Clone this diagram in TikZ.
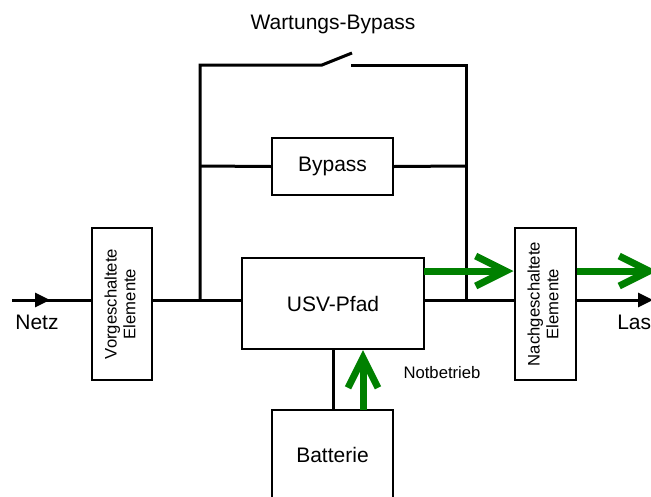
\documentclass[tikz,border=0pt]{standalone}
\usepackage{fontspec}
\setmainfont{Liberation Sans}
\usetikzlibrary{arrows.meta}
\definecolor{flowgreen}{RGB}{0,128,0}
\tikzset{
  box/.style={draw=black, line width=1.5pt, inner sep=0pt, align=center, font=\fontsize{15.75}{18}\selectfont},
  vbox/.style={box, minimum width=45pt, minimum height=114pt, font=\fontsize{12.5}{15}\selectfont},
  wire/.style={draw=black, line width=2.25pt},
  tri/.style={-{Triangle[length=11.25pt 0, width=10.5pt 0]}},
  garrow/.style={draw=flowgreen, line width=5.25pt, -{Straight Barb[length=22.5pt 0, width=22.5pt 0]}},
  big/.style={font=\fontsize{15.75}{18}\selectfont, inner sep=0pt},
  small/.style={font=\fontsize{12.5}{15}\selectfont, inner sep=0pt}
}
\begin{document}
\begin{tikzpicture}[x=0.75pt, y=-0.75pt]
\useasboundingbox (0,0) rectangle (651,497);
\clip (0,0) rectangle (651,497);
% boxes
\node[vbox] (vor) at (122,304) {\rotatebox{90}{\begin{tabular}{@{}c@{}}Vorgeschaltete\\[-1pt]Elemente\end{tabular}}};
\node[vbox, minimum width=45.75pt] (nach) at (545,304) {\rotatebox{90}{\begin{tabular}{@{}c@{}}Nachgeschaltete\\[-1pt]Elemente\end{tabular}}};
\node[box, minimum width=136.5pt, minimum height=68.25pt] (usv) at (333,303.5) {USV-Pfad};
\node[box, minimum width=90.75pt, minimum height=42.75pt] (byp) at (332.5,166.5) {Bypass};
\node[box, minimum width=90.75pt, minimum height=66.75pt] (bat) at (332.5,454.5) {Batterie};
% coordinates
\coordinate (ns) at (12,300);
\coordinate (na) at (50,300);
\coordinate (le) at (653,300);
\coordinate (jl) at (200,300);
\coordinate (jr) at (466,300);
\coordinate (tl) at (200,65);
\coordinate (tr) at (466,65);
\coordinate (bl) at (200,166);
\coordinate (br) at (466,166);
\coordinate (s1) at (322,65);
\coordinate (s2) at (352,53);
\coordinate (s3) at (351,65);
\coordinate (g1) at (424,271);
\coordinate (g2) at (657,271);
\coordinate (gb) at (363,410);
% wires
\draw[wire] (ns) -- (ns -| vor.west);
\draw[wire, tri] (ns) -- (na);
\draw[wire] (jl -| vor.east) -- (jl -| usv.west);
\draw[wire] (jl -| usv.east) -- (jl -| nach.west);
\draw[wire, tri] (le -| nach.east) -- (le);
\draw[wire] (jl) -- (tl) -- (s1) -- (s2);
\draw[wire] (s3) -- (tr) -- (jr);
\draw[wire] (bl) -- (byp.west);
\draw[wire] (byp.east) -- (br);
\draw[wire] (usv.south) -- (usv.south |- bat.north);
% green flows
\draw[garrow] (g1) -- (g1 -| nach.west);
\draw[garrow] (g1 -| nach.east) -- (g2);
\draw[garrow] (gb) -- (gb |- usv.south);
% labels
\node[big] (wb) at (333,24) {Wartungs-Bypass};
\node[small] (nb) at (442,373) {Notbetrieb};
\node[big] (netz) at (37,322) {Netz};
\node[big, anchor=west] (last) at (617,322) {Last};
\end{tikzpicture}
\end{document}
